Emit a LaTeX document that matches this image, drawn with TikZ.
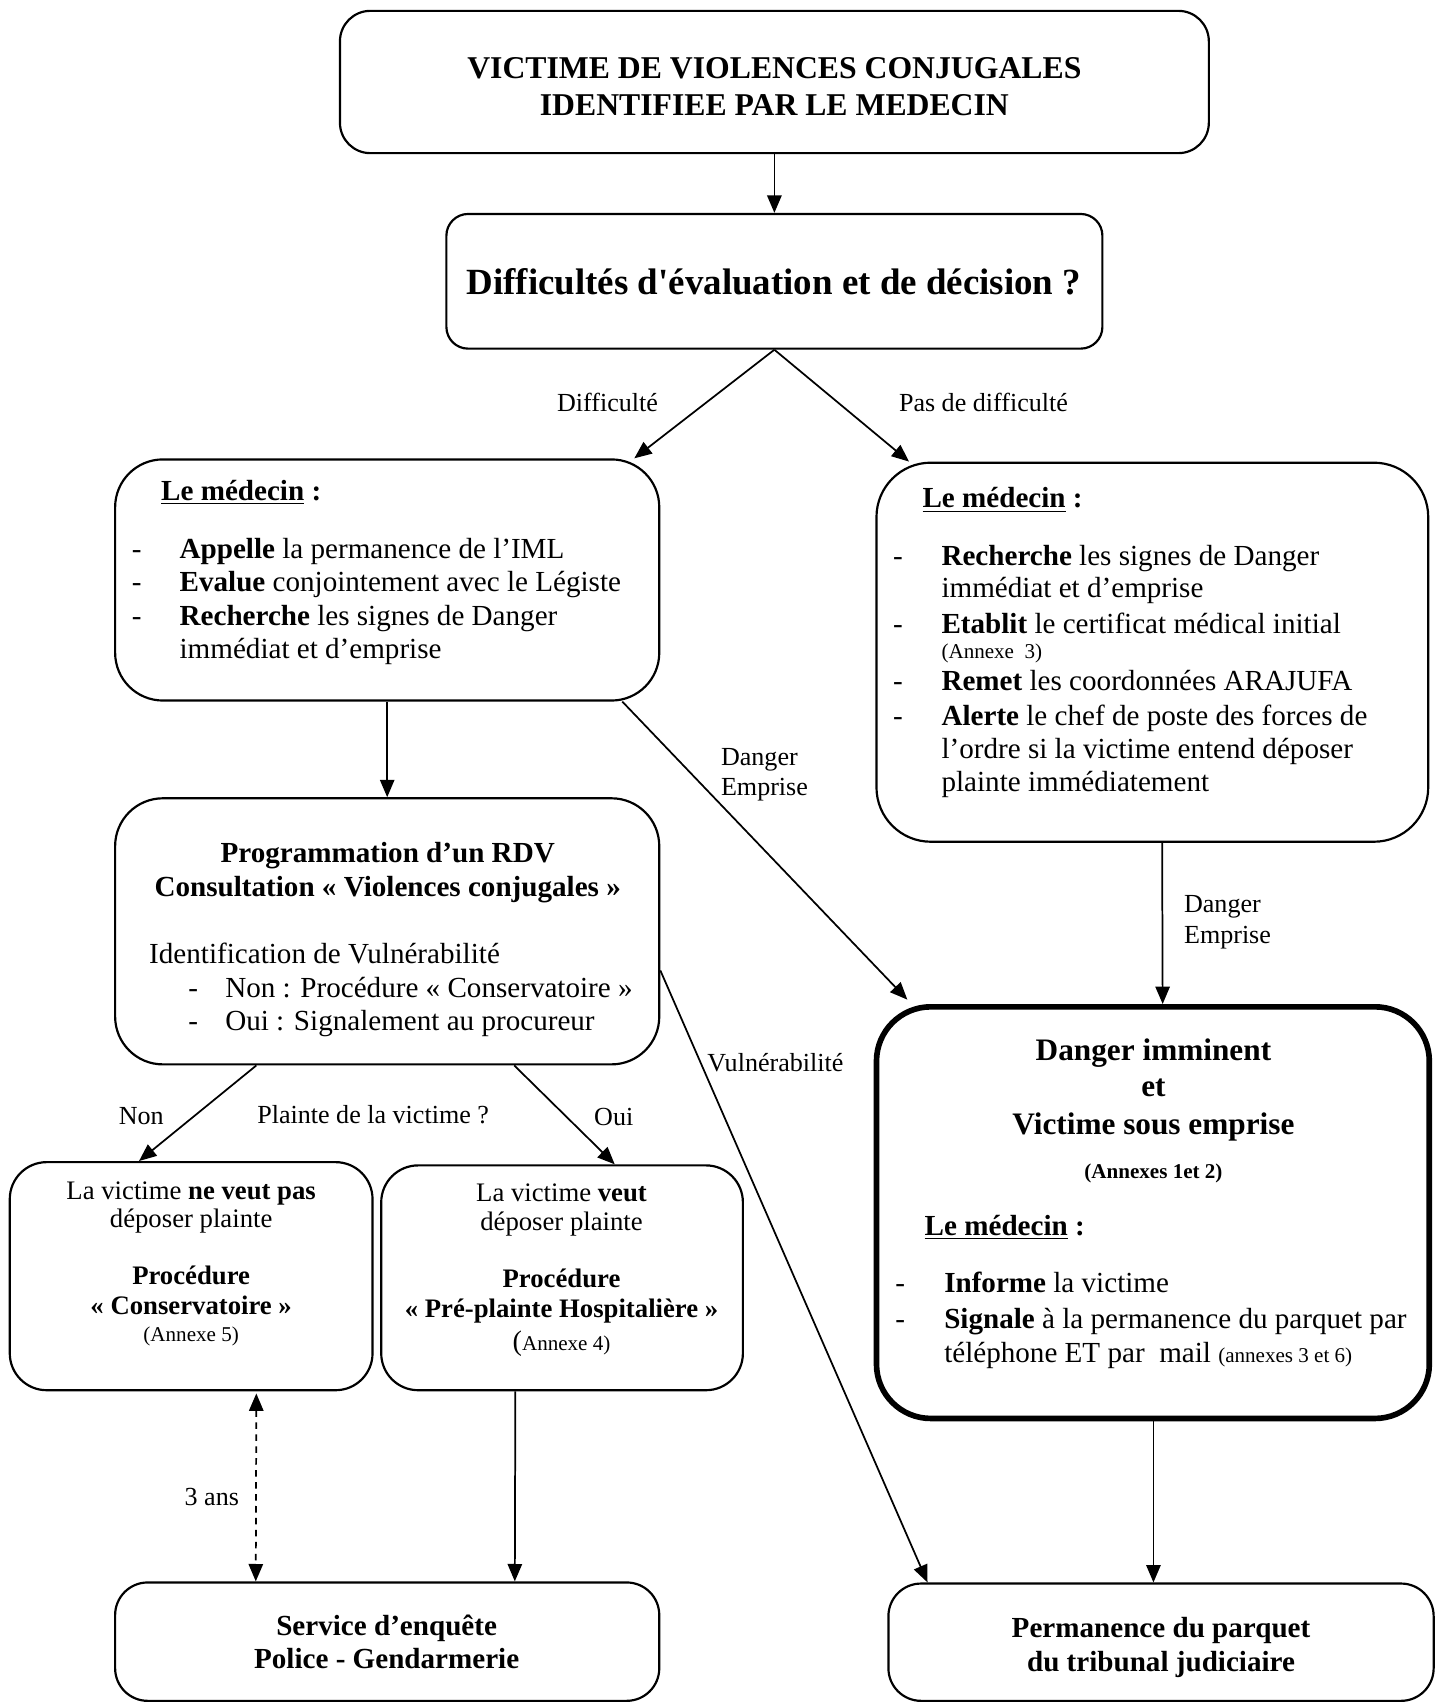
\documentclass[tikz,border=0pt]{standalone}
\usepackage{fontspec}
\setmainfont{Liberation Serif}
\newfontfamily\rawserif{Liberation Serif}
\usetikzlibrary{arrows.meta,fit,calc}
\tikzset{
  box/.style={draw, line width=1pt, inner sep=0pt},
  thickbox/.style={draw, line width=2.6pt, inner sep=0pt},
  arr/.style={line width=0.8pt, -{Triangle[length=8pt,width=6.6pt]}},
  dbl/.style={line width=0.8pt, dash pattern=on 3pt off 2.5pt, {Triangle[length=8pt,width=6.6pt]}-{Triangle[length=8pt,width=6.6pt]}},
  txt/.style={inner sep=0pt, anchor=base},
  txl/.style={inner sep=0pt, anchor=base west},
  body/.style={font=\fontsize{13.4}{16}\selectfont},
  ttl/.style={font=\fontsize{14.6}{17}\selectfont\bfseries},
  big/.style={font=\fontsize{17}{20}\selectfont\bfseries},
  lab/.style={font=\fontsize{12}{14}\selectfont},
  mid/.style={font=\fontsize{12.3}{14}\selectfont},
  sm/.style={font=\fontsize{9.7}{11}\selectfont},
  dgt/.style={font=\fontsize{14.4}{17}\selectfont\bfseries},
}
\newcommand\medc{\textbf{\underline{Le médecin}~:}}
\newcommand\sq{{\rawserif '}}
\begin{document}
\begin{tikzpicture}[x=0.5pt,y=-0.5pt]
\useasboundingbox (0,0) rectangle (1322,1568);
\fill[white] (0,0) rectangle (1322,1568);

% ---------- boxes ----------
\node[box, rounded corners=14pt, fit={(313,10) (1113,141)}] (b1) {};
\node[box, rounded corners=10pt, fit={(411,197) (1015,321)}] (b2) {};
\node[box, rounded corners=22pt, fit={(106,423) (607,645)}] (lm) {};
\node[box, rounded corners=25pt, fit={(807,426) (1315,775)}] (rm) {};
\node[box, rounded corners=22pt, fit={(106,735) (607,980)}] (prog) {};
\node[box, rounded corners=17pt, fit={(9,1070) (343,1280)}] (non) {};
\node[box, rounded corners=17pt, fit={(351,1073) (684,1280)}] (oui) {};
\node[thickbox, rounded corners=25pt, fit={(807,927) (1316,1306)}] (dg) {};
\node[box, rounded corners=15pt, fit={(106,1457) (607,1566)}] (svc) {};
\node[box, rounded corners=15pt, fit={(818,1458) (1320,1566)}] (pm) {};

% ---------- connectors ----------
\draw[arr] (b1) -- (b2);
\draw[arr] (b2.south) -- ($(lm.north east)+(-24,0)$);
\draw[arr] (b2.south) -- ($(rm.north west)+(31,0)$);
\draw[arr] (lm) -- (prog);
\draw[arr] ($(lm.south east)+(-35,0)$) -- ($(dg.north west)+(31,-4)$);
\draw[arr] ($(rm.south)+(9,0)$) -- ($(dg.north)+(9,0)$);
\draw[arr] ($(prog.east)+(0,36)$) -- ($(pm.north west)+(37,0)$);
\draw[arr] ($(prog.south)+(-120.5,0)$) -- ($(non.north west)+(120,0)$);
\draw[arr] ($(prog.south)+(117,0)$) -- ($(oui.north west)+(216,0)$);
\draw[dbl] ($(non.south)+(60,2)$) -- ($(svc.north)+(-121,0)$);
\draw[arr] ($(oui.south)+(-43,0)$) -- ($(svc.north)+(117.5,0)$);
\draw[arr] ($(dg.south)+(0.5,0)$) -- ($(pm.north)+(-7,0)$);

% ---------- top ----------
\node[txt,ttl] (t1) at (713,72.6) {VICTIME DE VIOLENCES CONJUGALES};
\node[txt,ttl] (t2) at (713,106.6) {IDENTIFIEE PAR LE MEDECIN};
\node[txt,big] (t3) at (712.5,271) {Difficultés d\sq évaluation et de décision ?};
\node[txt,lab] (l1) at (559.4,379) {Difficulté};
\node[txt,lab] (l2) at (905.5,379) {Pas de difficulté};

% ---------- left medecin ----------
\node[txl,body] (a0) at (148,460.7) {\medc};
\node[txl,body] (ad1) at (121,514) {-};
\node[txl,body] (ad2) at (121,544.8) {-};
\node[txl,body] (ad3) at (121,576) {-};
\node[txl,body] (a1) at (165,514) {\textbf{Appelle} la permanence de l’IML};
\node[txl,body] (a2) at (165,544.8) {\textbf{Evalue} conjointement avec le Légiste};
\node[txl,body] (a3) at (165,576) {\textbf{Recherche} les signes de Danger};
\node[txl,body] (a4) at (165,606) {immédiat et d’emprise};

% ---------- right medecin ----------
\node[txl,body] (r0) at (849,467.7) {\medc};
\node[txl,body] (rd1) at (822,521) {-};
\node[txl,body] (rd2) at (822,583) {-};
\node[txl,body] (rd3) at (822,635.7) {-};
\node[txl,body] (rd4) at (822,667.6) {-};
\node[txl,body] (r1) at (866.5,521) {\textbf{Recherche} les signes de Danger};
\node[txl,body] (r2) at (866.5,550) {immédiat et d’emprise};
\node[txl,body] (r3) at (866.5,583) {\textbf{Etablit} le certificat médical initial};
\node[txl,sm] (r4) at (866.5,606.6) {(Annexe\ \ 3)};
\node[txl,body] (r5) at (866.5,635.7) {\textbf{Remet} les coordonnées ARAJUFA};
\node[txl,body] (r6) at (866.5,667.6) {\textbf{Alerte} le chef de poste des forces de};
\node[txl,body] (r7) at (866.5,698) {l’ordre si la victime entend déposer};
\node[txl,body] (r8) at (866.5,728.8) {plainte immédiatement};

\node[txl,lab] (l3) at (663.5,705) {Danger};
\node[txl,lab] (l4) at (663.5,732) {Emprise};
\node[txl,lab] (l5) at (1089.8,840) {Danger};
\node[txl,lab] (l6) at (1089.8,869) {Emprise};

% ---------- programmation ----------
\node[txt,body] (p1) at (357,794) {\textbf{Programmation d’un RDV}};
\node[txt,body] (p2) at (357,825) {\textbf{Consultation « Violences conjugales »}};
\node[txl,body] (p3) at (137,886.8) {Identification de Vulnérabilité};
\node[txl,body] (pd1) at (173,918) {-};
\node[txl,body] (pd2) at (173,949) {-};
\node[txl,body] (p4) at (207,918) {Non : Procédure « Conservatoire »};
\node[txl,body] (p5) at (207,949) {Oui : Signalement au procureur};

\node[txl,lab] (l7) at (651,986.6) {Vulnérabilité};
\node[txl,lab] (l8) at (109,1035.5) {Non};
\node[txl,lab] (l9) at (236.5,1034) {Plainte de la victime ?};
\node[txl,lab] (l10) at (546.7,1036) {Oui};

% ---------- non / oui ----------
\node[txt,mid] (n1) at (176,1104) {La victime \textbf{ne veut pas}};
\node[txt,mid] (n2) at (176,1130.6) {déposer plainte};
\node[txt,mid] (n3) at (176,1182.7) {\textbf{Procédure}};
\node[txt,mid] (n4) at (176,1210.7) {\textbf{« Conservatoire »}};
\node[txt,sm] (n5) at (176,1235.6) {(Annexe 5)};

\node[txt,mid] (o1) at (517,1106) {La victime \textbf{veut}};
\node[txt,mid] (o2) at (517,1132.5) {déposer plainte};
\node[txt,mid] (o3) at (517,1185.3) {\textbf{Procédure}};
\node[txt,mid] (o4) at (517,1213) {\textbf{« Pré-plainte Hospitalière »}};
\node[txt,sm] (o5) at (517,1243.8) {{\fontsize{13}{14}\selectfont(}Annexe 4)};

\node[txl,lab] (l11) at (169.6,1386.5) {3 ans};

% ---------- danger ----------
\node[txt,dgt] (d1) at (1062,976.4) {Danger imminent};
\node[txt,dgt] (d2) at (1062,1009.8) {et};
\node[txt,dgt] (d3) at (1062,1044.6) {Victime sous emprise};
\node[txt,sm] (d4) at (1062,1085) {\textbf{(Annexes 1et 2)}};
\node[txl,body] (d5) at (851,1137.5) {\medc};
\node[txl,body] (dd1) at (824,1189.8) {-};
\node[txl,body] (dd2) at (824,1223.4) {-};
\node[txl,body] (d6) at (869,1189.8) {\textbf{Informe} la victime};
\node[txl,body] (d7) at (869,1223.4) {\textbf{Signale} à la permanence du parquet par};
\node[txl,body] (d8) at (869,1254.8) {téléphone ET par\ \ mail {\fontsize{9.7}{11}\selectfont (annexes 3 et 6)}};

% ---------- bottom ----------
\node[txt,body] (s1) at (356,1506) {\textbf{Service d’enquête}};
\node[txt,body] (s2) at (356,1536.3) {\textbf{Police - Gendarmerie}};
\node[txt,body] (m1) at (1069,1508) {\textbf{Permanence du parquet}};
\node[txt,body] (m2) at (1069,1539.4) {\textbf{du tribunal judiciaire}};
\end{tikzpicture}
\end{document}
